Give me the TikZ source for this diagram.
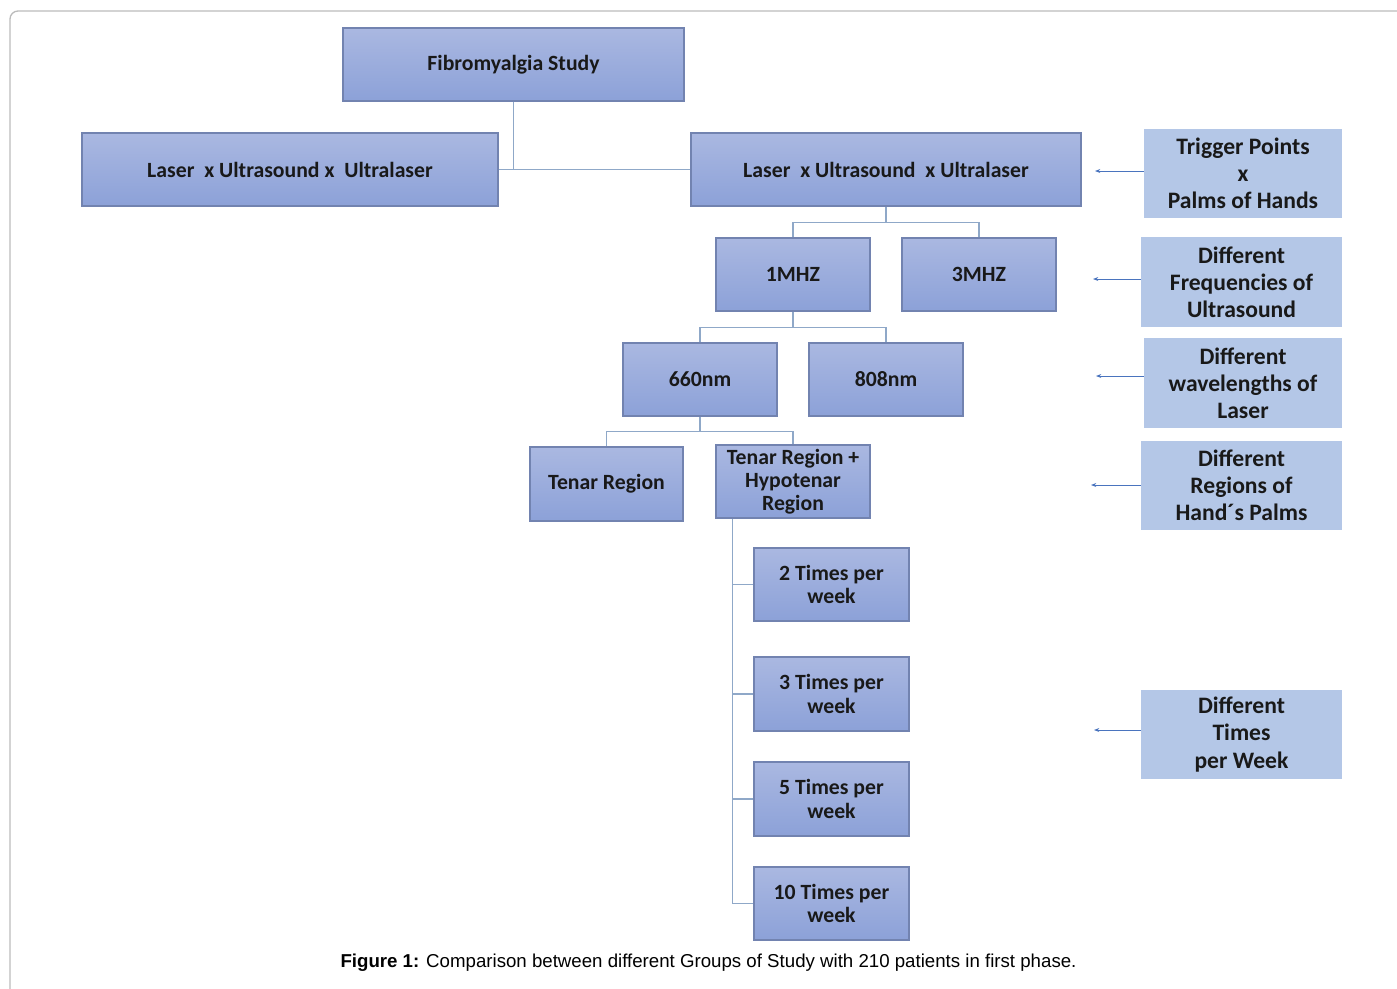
\documentclass[tikz,border=0pt]{standalone}
\usepackage{fontspec}
\setmainfont{Carlito}
\newfontfamily\capfont{Liberation Sans}
\usetikzlibrary{arrows.meta,calc}
\definecolor{boxtop}{HTML}{AAB8E1}
\definecolor{boxbot}{HTML}{8CA1D8}
\definecolor{boxline}{HTML}{7283B0}
\definecolor{sidefill}{HTML}{B4C7E7}
\definecolor{conn}{HTML}{8FA8C8}
\definecolor{arr}{HTML}{4A74BE}
\definecolor{framecol}{HTML}{BBBBBB}
% \mkbox[style]{name}{x1}{y1}{x2}{y2}{text}
\newcommand\mkbox[7][box]{%
  \node[#1,minimum width={(#5-#3)*0.75pt},minimum height={(#6-#4)*0.75pt}]
    (#2) at ({(#3+#5)/2},{(#4+#6)/2}) {#7};}
\begin{document}
\begin{tikzpicture}[x=0.75pt,y=-0.75pt,
  box/.style={draw=boxline,line width=0.8pt,top color=boxtop,bottom color=boxbot,
    inner sep=0pt,align=center,font=\bfseries\fontsize{16.3}{17.4}\selectfont,text=black!90},
  side/.style={fill=sidefill,inner sep=0pt,align=center,
    font=\bfseries\fontsize{17.7}{20.3}\selectfont,text=black!90},
  link/.style={draw=conn,line width=1pt},
  pointer/.style={draw=arr,line width=0.6pt,-{Stealth[length=4pt,width=3pt]}}]
\useasboundingbox (0,0) rectangle (1397,989);
% frame
\draw[framecol,line width=1pt,rounded corners=6pt] (10,989) -- (10,11) -- (1397,11);

% main boxes
\mkbox{fs}{343}{28}{684}{101}{Fibromyalgia Study}
\mkbox{lul}{82}{133}{498}{206}{Laser\ \ x Ultrasound x\ \ Ultralaser}
\mkbox{rlu}{691}{133}{1081}{206}{Laser\ \ x Ultrasound\ \ x Ultralaser}
\mkbox{m1}{716}{238}{870}{311}{1MHZ}
\mkbox{m3}{902}{238}{1056}{311}{3MHZ}
\mkbox{n660}{623}{343}{777}{416}{660nm}
\mkbox{n808}{809}{343}{963}{416}{808nm}
\mkbox{tr}{530}{447}{683}{521}{Tenar Region}
\mkbox{trh}{716}{445}{870}{518}{Tenar Region +\\Hypotenar\\Region}
\mkbox{t2}{754}{548}{909}{621}{2 Times per\\week}
\mkbox{t3}{754}{657}{909}{731}{3 Times per\\week}
\mkbox{t5}{754}{762}{909}{836}{5 Times per\\week}
\mkbox{t10}{754}{867}{909}{940}{10 Times per\\week}

% side boxes
\mkbox[side]{s1}{1144}{129}{1342}{218}{Trigger Points\\x\\Palms of Hands}
\mkbox[side]{s2}{1141}{237}{1342}{327}{Different\\Frequencies of\\Ultrasound}
\mkbox[side]{s3}{1144}{338}{1342}{428}{Different\\wavelengths of\\Laser}
\mkbox[side]{s4}{1141}{441}{1342}{530}{Different\\Regions of\\Hand´s Palms}
\mkbox[side]{s5}{1141}{690}{1342}{779}{Different\\Times\\per Week}

% arrow ends
\coordinate (a1) at (1095,171);
\coordinate (a2) at (1093,279);
\coordinate (a3) at (1096,376);
\coordinate (a4) at (1091,485);
\coordinate (a5) at (1094,730);
\draw[pointer] (s1.west |- a1) -- (a1);
\draw[pointer] (s2.west |- a2) -- (a2);
\draw[pointer] (s3.west |- a3) -- (a3);
\draw[pointer] (s4.west |- a4) -- (a4);
\draw[pointer] (s5.west |- a5) -- (a5);

% connectors
\draw[link] (fs.south) -- (fs.south |- lul.east);
\draw[link] (lul.east) -- (rlu.west);
\draw[link] (rlu.south) -- ++(0,16) -| (m1.north);
\draw[link] (rlu.south) ++(0,16) -| (m3.north);
\draw[link] (m1.south) -- ++(0,16) -| (n660.north);
\draw[link] (m1.south) ++(0,16) -| (n808.north);
\draw[link] (n660.south) -- ++(0,15) -| (tr.north);
\draw[link] (n660.south) ++(0,15) -| (trh.north);
\coordinate (spine) at ([xshift=12.75pt]trh.south west);
\draw[link] (spine) |- (t10.west);
\draw[link] (spine |- t2.west) -- (t2.west);
\draw[link] (spine |- t3.west) -- (t3.west);
\draw[link] (spine |- t5.west) -- (t5.west);

% caption
\node[font=\capfont\fontsize{14}{16}\selectfont,inner sep=0pt] (cap) at (708.5,963)
  {\textbf{Figure 1:} Comparison between different Groups of Study with 210 patients in first phase.};
\end{tikzpicture}
\end{document}
